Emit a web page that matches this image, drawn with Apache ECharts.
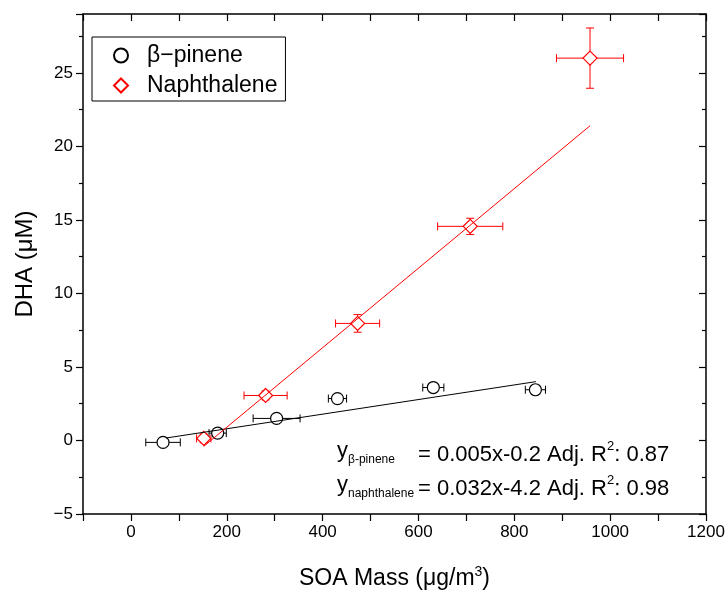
<!DOCTYPE html>
<html>
<head>
<meta charset="utf-8">
<script src="https://cdn.jsdelivr.net/npm/echarts@6/dist/echarts.min.js"></script>
<style>
html,body{margin:0;padding:0;background:#fff;}
#chart{width:726px;height:594px;}
</style>
</head>
<body>
<div id="chart"></div>
<script>
// ---- data ----
const pineneX    = [67, 181, 304, 431, 631, 844];
const pineneY    = [-0.13, 0.5, 1.5, 2.85, 3.6, 3.45];
const pineneXErr = [36, 18, 49, 19, 22, 21];
const pineneYErr = [0.2, 0.2, 0.2, 0.2, 0.2, 0.2];

const naphX    = [152, 281, 473, 708, 958];
const naphY    = [0.14, 3.06, 7.96, 14.56, 26.0];
const naphXErr = [15, 45, 46, 68, 70];
const naphYErr = [0.3, 0.3, 0.6, 0.55, 2.05];

const pineneFitX = [73, 845];
const pineneFitY = [0.165, 4.0];
const naphFitX = [152, 958];
const naphFitY = [-0.4, 21.4];

const xTickLabels = [0, 200, 400, 600, 800, 1000, 1200];
const yTickLabels = [-5, 0, 5, 10, 15, 20, 25];

const seriesNames = ['β−pinene', 'Naphthalene'];
const eqPinene = ['β-pinene', '= 0.005x-0.2 Adj. R', '2', ': 0.87'];
const eqNaph = ['naphthalene', '= 0.032x-4.2 Adj. R', '2', ': 0.98'];

const FONT = 'Liberation Sans, Arial, sans-serif';
const RED = '#ff0000';
const BLACK = '#000000';

function zip(a, b) { return a.map((v, i) => [v, b[i]]); }
function errData(x, y, xe, ye) { return x.map((v, i) => [v, y[i], xe[i], ye[i]]); }

function errRender(color) {
  return function (params, api) {
    const x = api.value(0), y = api.value(1), xe = api.value(2), ye = api.value(3);
    const l = api.coord([x - xe, y]), r = api.coord([x + xe, y]);
    const t = api.coord([x, y + ye]), b = api.coord([x, y - ye]);
    const cap = 4;
    const st = { stroke: color, lineWidth: 1 };
    return {
      type: 'group',
      children: [
        { type: 'line', shape: { x1: l[0], y1: l[1], x2: r[0], y2: r[1] }, style: st },
        { type: 'line', shape: { x1: l[0], y1: l[1] - cap, x2: l[0], y2: l[1] + cap }, style: st },
        { type: 'line', shape: { x1: r[0], y1: r[1] - cap, x2: r[0], y2: r[1] + cap }, style: st },
        { type: 'line', shape: { x1: t[0], y1: t[1], x2: b[0], y2: b[1] }, style: st },
        { type: 'line', shape: { x1: t[0] - cap, y1: t[1], x2: t[0] + cap, y2: t[1] }, style: st },
        { type: 'line', shape: { x1: b[0] - cap, y1: b[1], x2: b[0] + cap, y2: b[1] }, style: st }
      ]
    };
  };
}

const axisLineStyle = { color: BLACK, width: 1.5 };
const xMin = -100, xMax = 1200, yMin = -5, yMax = 29;

const eqRich = {
  y: { fontSize: 22, fontFamily: FONT, fill: BLACK, lineHeight: 30 },
  sub: { fontSize: 12, fontFamily: FONT, fill: BLACK, verticalAlign: 'bottom', lineHeight: 30 },
  t: { fontSize: 22, fontFamily: FONT, fill: BLACK, lineHeight: 30 },
  sup: { fontSize: 13, fontFamily: FONT, fill: BLACK, verticalAlign: 'top', lineHeight: 30 }
};

const chart = echarts.init(document.getElementById('chart'), null, { renderer: 'canvas' });
const option = {
  backgroundColor: '#ffffff',
  animation: false,
  textStyle: { fontFamily: FONT },
  grid: { left: 83, right: 20, top: 14, bottom: 80, containLabel: false, outerBoundsMode: 'none' },
  legend: {
    data: seriesNames,
    orient: 'vertical',
    left: 92, top: 37,
    padding: [7, 8, 4, 21],
    itemGap: 7,
    itemWidth: 14, itemHeight: 14,
    borderColor: BLACK, borderWidth: 1,
    backgroundColor: '#fff',
    textStyle: { fontSize: 23, color: BLACK, fontFamily: FONT, padding: [0, 0, 0, 14] },
    selectedMode: false
  },
  xAxis: [
    {
      type: 'value', position: 'bottom', min: xMin, max: xMax, interval: 100,
      name: '{a|SOA Mass (μg/m}{s|3}{a|)}', nameLocation: 'middle', nameGap: 51,
      nameTextStyle: { rich: {
        a: { fontSize: 23, fontFamily: FONT, color: BLACK, lineHeight: 28 },
        s: { fontSize: 14, fontFamily: FONT, color: BLACK, verticalAlign: 'top', lineHeight: 28 }
      } },
      axisLine: { show: true, onZero: false, lineStyle: axisLineStyle },
      axisTick: { show: true, inside: false, length: 7, lineStyle: { color: BLACK, width: 1.2 } },
      axisLabel: { show: true, fontSize: 17, color: BLACK, fontFamily: FONT, margin: 10,
        showMinLabel: true, showMaxLabel: true,
        formatter: v => xTickLabels.includes(v) ? String(v) : '' },
      splitLine: { show: false }
    },
    {
      type: 'value', position: 'top', min: xMin, max: xMax, interval: 100,
      axisLine: { show: true, onZero: false, lineStyle: axisLineStyle },
      axisTick: { show: true, inside: true, length: 7, lineStyle: { color: BLACK, width: 1.2 } },
      axisLabel: { show: false },
      splitLine: { show: false }
    }
  ],
  yAxis: [
    {
      type: 'value', position: 'left', min: yMin, max: yMax, interval: 5,
      name: 'DHA (μM)', nameLocation: 'middle', nameGap: 46,
      nameTextStyle: { fontSize: 24, fontFamily: FONT, color: BLACK },
      axisLine: { show: true, onZero: false, lineStyle: axisLineStyle },
      axisTick: { show: true, inside: false, length: 7, lineStyle: { color: BLACK, width: 1.2 } },
      minorTick: { show: true, splitNumber: 2, length: 4, lineStyle: { color: BLACK, width: 1.2 } },
      axisLabel: { show: true, fontSize: 17, color: BLACK, fontFamily: FONT, margin: 10,
        showMaxLabel: false,
        formatter: v => yTickLabels.includes(v) ? String(v).replace('-', '−') : '' },
      splitLine: { show: false }, minorSplitLine: { show: false }
    },
    {
      type: 'value', position: 'right', min: yMin, max: yMax, interval: 5,
      axisLine: { show: true, onZero: false, lineStyle: axisLineStyle },
      axisTick: { show: true, inside: true, length: 7, lineStyle: { color: BLACK, width: 1.2 } },
      minorTick: { show: true, splitNumber: 2, length: 4, lineStyle: { color: BLACK, width: 1.2 } },
      axisLabel: { show: false },
      splitLine: { show: false }, minorSplitLine: { show: false }
    }
  ],
  series: [
    {
      name: 'pinene-err', type: 'custom', xAxisIndex: 0, yAxisIndex: 0,
      renderItem: errRender(BLACK), data: errData(pineneX, pineneY, pineneXErr, pineneYErr),
      encode: { x: 0, y: 1 }, z: 1, silent: true
    },
    {
      name: 'naph-err', type: 'custom', xAxisIndex: 0, yAxisIndex: 0,
      renderItem: errRender(RED), data: errData(naphX, naphY, naphXErr, naphYErr),
      encode: { x: 0, y: 1 }, z: 1, silent: true
    },
    {
      name: seriesNames[0], type: 'scatter', symbol: 'circle', symbolSize: 12,
      data: zip(pineneX, pineneY),
      itemStyle: { color: '#ffffff', borderColor: BLACK, borderWidth: 1.2, opacity: 1 },
      z: 3
    },
    {
      name: seriesNames[1], type: 'scatter', symbol: 'diamond', symbolSize: 14,
      data: zip(naphX, naphY),
      itemStyle: { color: '#ffffff', borderColor: RED, borderWidth: 1.2, opacity: 1 },
      z: 3
    },
    {
      name: 'pinene-fit', type: 'line', data: zip(pineneFitX, pineneFitY),
      showSymbol: false, symbol: 'none', lineStyle: { color: BLACK, width: 1 }, z: 4, silent: true
    },
    {
      name: 'naph-fit', type: 'line', data: zip(naphFitX, naphFitY),
      showSymbol: false, symbol: 'none', lineStyle: { color: RED, width: 1 }, z: 4, silent: true
    }
  ],
  graphic: [
    { type: 'text', left: 337, top: 440, z: 10,
      style: { text: '{y|y}{sub|' + eqPinene[0] + '}', rich: eqRich } },
    { type: 'text', left: 418, top: 440, z: 10,
      style: { text: '{t|' + eqPinene[1] + '}{sup|' + eqPinene[2] + '}{t|' + eqPinene[3] + '}', rich: eqRich } },
    { type: 'text', left: 337, top: 474, z: 10,
      style: { text: '{y|y}{sub|' + eqNaph[0] + '}', rich: eqRich } },
    { type: 'text', left: 418, top: 474, z: 10,
      style: { text: '{t|' + eqNaph[1] + '}{sup|' + eqNaph[2] + '}{t|' + eqNaph[3] + '}', rich: eqRich } }
  ]
};
chart.setOption(option);
</script>
</body>
</html>
